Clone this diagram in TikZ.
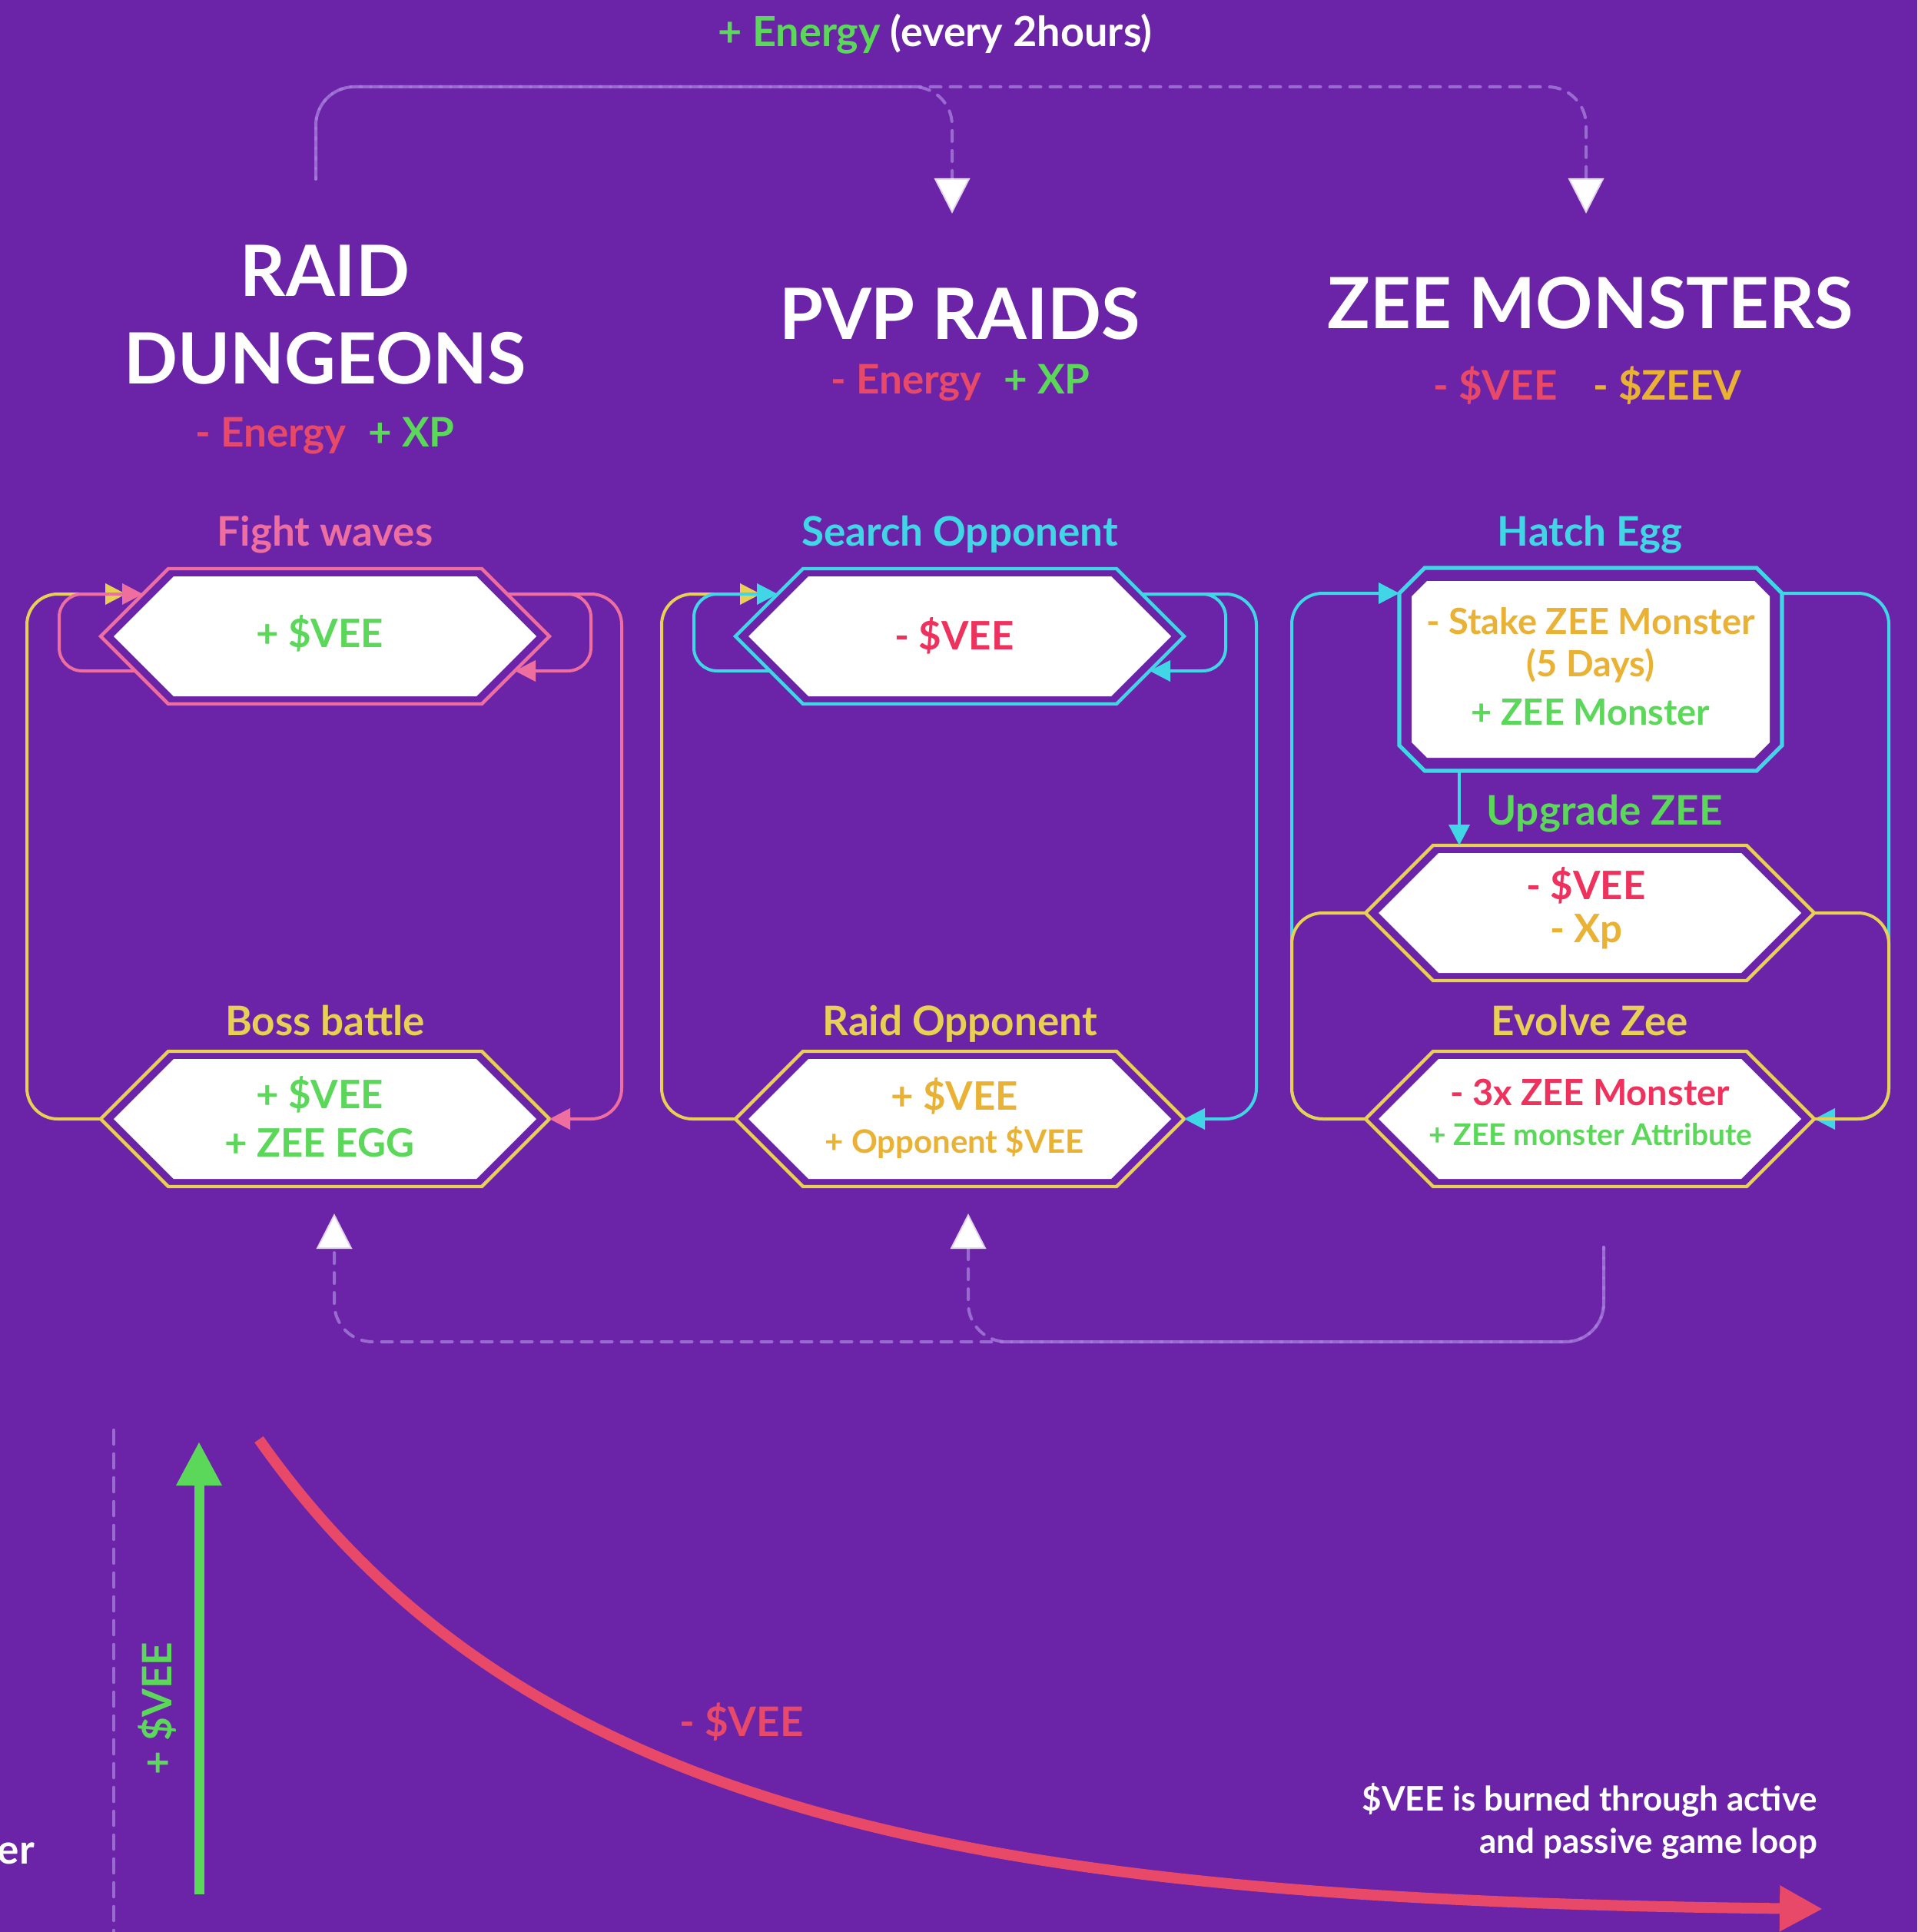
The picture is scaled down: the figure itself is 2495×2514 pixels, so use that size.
\documentclass[tikz,border=0pt]{standalone}
\usepackage{fontspec}
\setmainfont{Lato}
\usetikzlibrary{arrows.meta,calc}
\definecolor{bgp}{RGB}{107,36,168}
\definecolor{pnk}{RGB}{238,110,160}
\definecolor{cyn}{RGB}{64,214,230}
\definecolor{ylw}{RGB}{232,208,84}
\definecolor{gold}{RGB}{234,178,52}
\definecolor{grn}{RGB}{91,216,90}
\definecolor{redA}{RGB}{233,73,104}
\definecolor{redB}{RGB}{238,50,93}
\definecolor{redC}{RGB}{233,73,104}
\definecolor{lav}{RGB}{165,125,218}
\newcommand\hexdraw[2]{%
  \draw[#2, line width=2.2pt, line join=miter] (#1.west) -- ($(#1.north west)+(88,0)$) -- ($(#1.north east)+(-88,0)$) -- (#1.east) -- ($(#1.south east)+(-88,0)$) -- ($(#1.south west)+(88,0)$) -- cycle;
  \fill[white] ($(#1.west)+(17,0)$) -- ($(#1.north west)+(95,10)$) -- ($(#1.north east)+(-95,10)$) -- ($(#1.east)+(-17,0)$) -- ($(#1.south east)+(-95,-10)$) -- ($(#1.south west)+(95,-10)$) -- cycle;
}
\newcommand\octdraw[2]{%
  \draw[#2, line width=2.6pt, line join=miter] ($(#1.north west)+(33,0)$) -- ($(#1.north east)+(-33,0)$) -- ($(#1.north east)+(0,33)$) -- ($(#1.south east)+(0,-33)$) -- ($(#1.south east)+(-33,0)$) -- ($(#1.south west)+(33,0)$) -- ($(#1.south west)+(0,-33)$) -- ($(#1.north west)+(0,33)$) -- cycle;
  \fill[white] ($(#1.north west)+(36,17)$) -- ($(#1.north east)+(-36,17)$) -- ($(#1.north east)+(-16,37)$) -- ($(#1.south east)+(-16,-37)$) -- ($(#1.south east)+(-36,-17)$) -- ($(#1.south west)+(36,-17)$) -- ($(#1.south west)+(16,-37)$) -- ($(#1.north west)+(16,37)$) -- cycle;
}
\tikzset{
  tx/.style={inner sep=0pt, outer sep=0pt, anchor=base},
  fTitle/.style={tx, font={\fontsize{46pt}{50pt}\selectfont\bfseries}},
  fSub/.style={tx, font={\fontsize{26.5pt}{30pt}\selectfont\bfseries}},
  fHex/.style={tx, font={\fontsize{25.5pt}{29pt}\selectfont\bfseries}},
  fHexM/.style={tx, font={\fontsize{23.5pt}{27pt}\selectfont\bfseries}},
  fHexS/.style={tx, font={\fontsize{21pt}{25pt}\selectfont\bfseries}},
  fHexXS/.style={tx, font={\fontsize{19.5pt}{23pt}\selectfont\bfseries}},
  fNote/.style={tx, font={\fontsize{22pt}{26pt}\selectfont\bfseries}},
  fTop/.style={tx, font={\fontsize{27pt}{31pt}\selectfont\bfseries}},
  hexbox/.style={inner sep=0pt, outer sep=0pt, minimum width=292pt, minimum height=88pt},
  octbox/.style={inner sep=0pt, outer sep=0pt, minimum width=249pt, minimum height=132pt},
  ln/.style={line width=2pt, rounded corners=20pt},
  lp/.style={line width=2pt, rounded corners=15pt},
  arr/.style={-{Triangle[length=13.5pt,width=13.5pt]}},
  dsh/.style={line width=2pt, draw=lav, draw opacity=0.8, line cap=round, dash pattern=on 7pt off 6pt, rounded corners=25pt},
  arrW/.style={-{Triangle[length=23pt,width=23pt,color=white]}},
}
\begin{document}
\begin{tikzpicture}[x=0.5pt,y=-0.5pt]
\useasboundingbox (0,0) rectangle (2495,2514);
\fill[bgp] (0,0) rectangle (2495,2514);

% ---------- boxes ----------
\node[hexbox] (fw) at (423,828) {};
\node[hexbox] (bb) at (423,1456) {};
\node[hexbox] (so) at (1249,828) {};
\node[hexbox] (ro) at (1249,1456) {};
\node[hexbox] (up) at (2069,1188) {};
\node[hexbox] (ev) at (2069,1456) {};
\node[octbox] (he) at (2070,871) {};
\hexdraw{fw}{pnk}
\hexdraw{bb}{ylw}
\hexdraw{so}{cyn}
\hexdraw{ro}{ylw}
\hexdraw{up}{ylw}
\hexdraw{ev}{ylw}
\octdraw{he}{cyn}

% ---------- column 1 connectors ----------
\draw[ln, ylw, arr] (bb.west) -- ++(-96,0) |- ($(fw.west)+(33,-55)$);
\draw[lp, pnk, arr] ($(fw.west)+(45,45)$) -- ++(-99,0) |- ($(fw.west)+(55,-55)$);
\draw[ln, pnk, arr] ($(fw.east)+(-55,-55)$) -- ++(149,0) |- (bb.east);
\draw[lp, pnk, arr] ($(fw.east)+(-55,-55)$) -- ++(109,0) |- ($(fw.east)+(-45,45)$);

% ---------- column 2 connectors ----------
\draw[ln, ylw, arr] (ro.west) -- ++(-96,0) |- ($(so.west)+(33,-55)$);
\draw[lp, cyn, arr] ($(so.west)+(45,45)$) -- ++(-99,0) |- ($(so.west)+(55,-55)$);
\draw[ln, cyn, arr] ($(so.east)+(-55,-55)$) -- ++(149,0) |- (ro.east);
\draw[lp, cyn, arr] ($(so.east)+(-55,-55)$) -- ++(109,0) |- ($(so.east)+(-45,45)$);

% ---------- column 3 connectors ----------
\coordinate (hb) at ($(he.south west)+(78,0)$);
\draw[ln, cyn, arr] (ev.west) -- ++(-96,0) |- ($(he.north west)+(0,33)$);
\draw[ln, cyn, arr] ($(he.north east)+(0,33)$) -- ++(139,0) |- (ev.east);
\draw[line width=2pt, cyn, arr] (hb) -- (hb |- up.north);
\draw[ln, ylw] (ev.west) -- ++(-96,0) |- (up.west);
\draw[ln, ylw] (up.east) -- ++(97,0) |- (ev.east);

% ---------- dashed energy connectors ----------
\coordinate (ds) at (411,233);
\coordinate (da1) at (1239,278);
\coordinate (da2) at (2064,278);
\draw[dsh, arrW] (ds) -- (411,113) -| (da1);
\draw[dsh, arrW, dash phase=6pt] (ds) -- (411,113) -| (da2);
\coordinate (bs) at (2087,1623);
\coordinate (ba1) at (435,1579);
\coordinate (ba2) at (1260,1579);
\draw[dsh, arrW, dash phase=6pt] (bs) -- (2087,1746) -| (ba1);
\draw[dsh, arrW] (bs) -- (2087,1746) -| (ba2);

% ---------- bottom graph ----------
\coordinate (vd0) at (148,1861);
\coordinate (vd1) at (148,2514);
\draw[line width=2.25pt, draw=lav, draw opacity=0.8, line cap=round, dash pattern=on 9pt off 6.5pt] (vd0) -- (vd1);
\coordinate (ga0) at (259,2465);
\coordinate (ga1) at (259,1876);
\draw[grn, line width=6.5pt, -{Triangle[length=28.5pt,width=28pt]}] (ga0) -- (ga1);
\coordinate (rc0) at (337,1873);
\coordinate (rc1) at (2372,2484);
\draw[redC, line width=7pt, -{Triangle[length=28pt,width=28pt]}] (rc0) .. controls (690,2375) and (1300,2472) .. (rc1);

% ---------- texts ----------
\node[fTop] (ttop) at (1217,61) {\color{grn}+ Energy \color{white}(every 2hours)};
\node[fTitle, text=white] (tRaid) at (423,386) {RAID};
\node[fTitle, text=white] (tDung) at (423,500) {DUNGEONS};
\node[fSub] (sRaid) at (423,581) {\color{redA}- Energy\hspace{0.3em} \color{grn}+ XP};
\node[fTitle, text=white] (tPvp) at (1249,442) {PVP RAIDS};
\node[fSub] (sPvp) at (1250,512) {\color{redA}- Energy\hspace{0.3em} \color{grn}+ XP};
\node[fTitle, text=white] (tZee) at (2070,428) {ZEE MONSTERS};
\node[fSub, text=redA] (sZ1) at (1946,520) {- \$VEE};
\node[fSub, text=gold] (sZ2) at (2170,520) {- \$ZEEV};

\node[fSub, text=pnk] (lFw) at (423,710) {Fight waves};
\node[fSub, text=cyn] (lSo) at (1249,710) {Search Opponent};
\node[fSub, text=cyn] (lHe) at (2069,710) {Hatch Egg};
\node[fSub, text=grn] (lUp) at (2088,1073) {Upgrade ZEE};
\node[fSub, text=ylw] (lBb) at (423,1347) {Boss battle};
\node[fSub, text=ylw] (lRo) at (1249,1347) {Raid Opponent};
\node[fSub, text=ylw] (lEv) at (2069,1347) {Evolve Zee};

\node[fHex, text=grn] (fw-t) at (416,842) {+ \$VEE};
\node[fHex, text=grn] (bb-t1) at (416,1442) {+ \$VEE};
\node[fHex, text=grn] (bb-t2) at (416,1505) {+ ZEE EGG};
\node[fHex, text=redB] (so-t) at (1242,845) {- \$VEE};
\node[fHex, text=gold] (ro-t1) at (1242,1444) {+ \$VEE};
\node[fHexS, text=gold] (ro-t2) at (1242,1500) {+ Opponent \$VEE};
\node[fHexM, text=gold] (he-t1) at (2070,825) {- Stake ZEE Monster};
\node[fHexM, text=gold] (he-t2) at (2070,880) {(5 Days)};
\node[fHexM, text=grn] (he-t3) at (2070,943) {+ ZEE Monster};
\node[fHex, text=redB] (up-t1) at (2064,1170) {- \$VEE};
\node[fHex, text=gold] (up-t2) at (2064,1226) {- Xp};
\node[fHexM, text=redB] (ev-t1) at (2069,1438) {- 3x ZEE Monster};
\node[fHexXS, text=grn] (ev-t2) at (2070,1490) {+ ZEE monster Attribute};

\node[fSub, text=redC] (lBurn) at (965,2259) {- \$VEE};
\node[fNote, text=white, anchor=base east] (n1) at (2365,2356) {\$VEE is burned through active};
\node[fNote, text=white, anchor=base east] (n2) at (2365,2411) {and passive game loop};
\node[fSub, text=grn, rotate=90] (lRot) at (223,2223) {+ \$VEE};
\node[fSub, text=white, anchor=base east] (lEr) at (45,2425) {er};
\end{tikzpicture}
\end{document}
